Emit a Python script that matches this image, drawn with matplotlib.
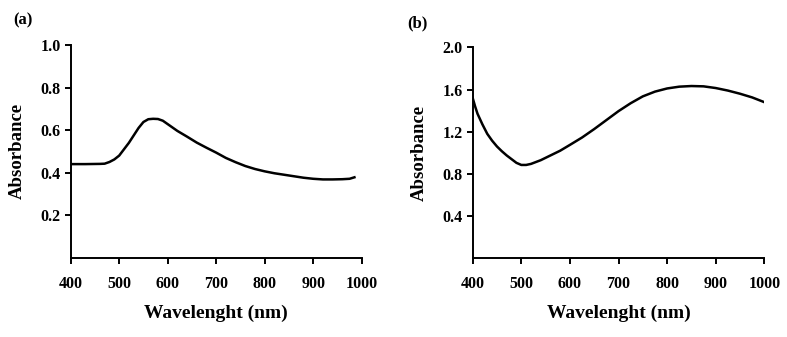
import numpy as np
import matplotlib
matplotlib.use("Agg")
import matplotlib.pyplot as plt

# ==========================
# Data
# ==========================
wl_a = [400, 430, 460, 470, 480, 490, 500, 510, 520, 530, 540, 550, 560, 570, 580,
        590, 600, 620, 640, 660, 680, 700, 720, 740, 760, 780, 800, 820, 840,
        860, 880, 900, 920, 940, 960, 975, 985]
abs_a = [0.44, 0.44, 0.441, 0.442, 0.45, 0.462, 0.48, 0.51, 0.54, 0.575, 0.61, 0.638, 0.651, 0.653, 0.652,
         0.644, 0.628, 0.596, 0.569, 0.541, 0.517, 0.494, 0.469, 0.449, 0.431, 0.417, 0.406, 0.397, 0.39,
         0.383, 0.376, 0.371, 0.368, 0.368, 0.369, 0.371, 0.378]

wl_b = [400, 405, 410, 420, 430, 440, 450, 460, 470, 480, 490, 500, 510, 520, 540, 560,
        580, 600, 625, 650, 675, 700, 725, 750, 775, 800, 825, 850, 875, 900, 925,
        950, 975, 1000]
abs_b = [1.52, 1.44, 1.37, 1.27, 1.18, 1.115, 1.06, 1.015, 0.975, 0.94, 0.905, 0.885, 0.885, 0.895, 0.93, 0.975,
         1.02, 1.075, 1.145, 1.225, 1.31, 1.395, 1.47, 1.535, 1.58, 1.61, 1.627, 1.633, 1.63, 1.614, 1.59,
         1.56, 1.525, 1.48]

x_ticks = [400, 500, 600, 700, 800, 900, 1000]
y_ticks_a = [0.2, 0.4, 0.6, 0.8, 1.0]
y_ticks_b = [0.4, 0.8, 1.2, 1.6, 2.0]

plt.rcParams['font.family'] = ['Liberation Serif', 'DejaVu Serif']
plt.rcParams['font.weight'] = 'bold'


def style_axis(ax, yticks, ymax):
    ax.spines['top'].set_visible(False)
    ax.spines['right'].set_visible(False)
    for s in ('left', 'bottom'):
        ax.spines[s].set_linewidth(1.4)
    ax.set_xlim(400, 1000)
    ax.set_ylim(0, ymax)
    ax.set_xticks(x_ticks)
    ax.set_yticks(yticks)
    ax.set_xticklabels([str(t) for t in x_ticks], fontsize=11.5, fontweight='bold')
    ax.set_yticklabels([f'{t:.1f}' for t in yticks], fontsize=11.5, fontweight='bold')
    ax.tick_params(direction='out', length=4, width=1.4)
    ax.tick_params(axis='x', pad=9)
    ax.tick_params(axis='y', pad=3)
    ax.set_xlabel('Wavelenght (nm)', fontsize=14, fontweight='bold', labelpad=9)
    ax.set_ylabel('Absorbance', fontsize=13.5, fontweight='bold', labelpad=11)


fig = plt.figure(figsize=(7.87, 3.37), dpi=100)

ax1 = fig.add_axes([0.0898, 0.2353, 0.3698, 0.6312])
ax1.plot(wl_a, abs_a, color='black', lw=1.8)
style_axis(ax1, y_ticks_a, 1.0)

ax2 = fig.add_axes([0.6006, 0.2335, 0.3706, 0.6261])
ax2.plot(wl_b, abs_b, color='black', lw=1.8)
style_axis(ax2, y_ticks_b, 2.0)

fig.text(0.017, 0.94, '(a)', fontsize=12, fontweight='bold', va='center')
fig.text(0.517, 0.93, '(b)', fontsize=12, fontweight='bold', va='center')

fig.savefig('out.png', dpi=100)
